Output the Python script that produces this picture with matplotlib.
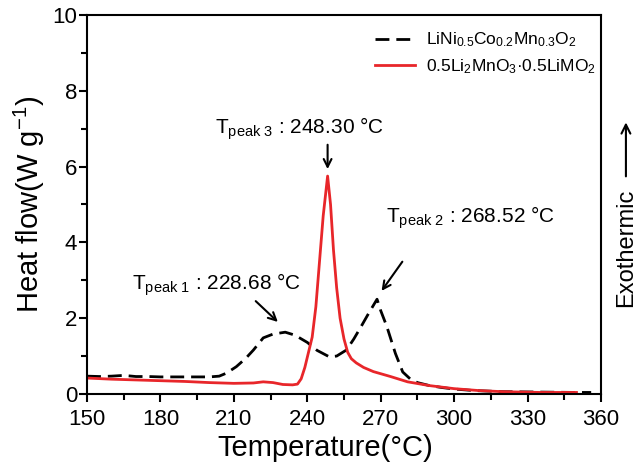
import matplotlib
matplotlib.use("Agg")
from matplotlib import pyplot as plt
from matplotlib.ticker import MultipleLocator

plt.rcParams['font.family'] = ['Liberation Sans', 'DejaVu Sans']
plt.rcParams['mathtext.fontset'] = 'custom'
plt.rcParams['mathtext.rm'] = 'Liberation Sans'
plt.rcParams['mathtext.it'] = 'Liberation Sans:italic'
plt.rcParams['mathtext.default'] = 'regular'

# LiNi0.5Co0.2Mn0.3O2 (black dashed)
ncm_t = [150, 155, 160, 165, 170, 175, 180, 190, 200, 204, 207, 211, 215, 218,
         222, 226, 231, 235, 240, 244, 249, 252, 256, 259, 262, 265, 268.5, 270,
         272.5, 276, 279, 282, 285, 290, 295, 300, 308, 320, 335, 350, 356]
ncm_q = [0.47, 0.46, 0.47, 0.49, 0.46, 0.46, 0.45, 0.45, 0.45, 0.47, 0.55, 0.72, 0.95, 1.16,
         1.48, 1.58, 1.63, 1.55, 1.36, 1.15, 0.98, 1.00, 1.16, 1.45, 1.78, 2.12, 2.50, 2.20,
         1.78, 1.07, 0.58, 0.40, 0.30, 0.22, 0.17, 0.13, 0.09, 0.06, 0.05, 0.04, 0.04]

# 0.5Li2MnO3-0.5LiMO2 (red)
lr_t = [150, 160, 170, 180, 190, 200, 210, 218, 222, 226, 230, 234, 236, 237.5, 239,
        240.5, 242, 243.5, 245, 246.5, 248.3, 249.5, 250.7, 252, 253.4, 255, 256.5,
        258, 260, 263, 267, 274, 281, 290, 300, 310, 320, 335, 350]
lr_q = [0.42, 0.39, 0.37, 0.35, 0.33, 0.30, 0.28, 0.29, 0.32, 0.30, 0.25, 0.24, 0.26, 0.40, 0.70,
        1.10, 1.50, 2.30, 3.50, 4.70, 5.75, 5.00, 3.80, 2.80, 2.00, 1.45, 1.10,
        0.93, 0.82, 0.70, 0.59, 0.46, 0.32, 0.22, 0.14, 0.09, 0.06, 0.04, 0.04]

xticks = [150, 180, 210, 240, 270, 300, 330, 360]
yticks = [0, 2, 4, 6, 8, 10]

fig = plt.figure(figsize=(6.4, 4.69), dpi=100)
ax = fig.add_axes([0.136, 0.160, 0.803, 0.808])

ax.plot(ncm_t, ncm_q, color='black', lw=2, linestyle=(0, (5, 2.5)),
        label='LiNi$_{0.5}$Co$_{0.2}$Mn$_{0.3}$O$_2$')
ax.plot(lr_t, lr_q, color='#e8262a', lw=2,
        label='0.5Li$_2$MnO$_3$·0.5LiMO$_2$')

ax.set_xlim(150, 360)
ax.set_ylim(0, 10)
ax.set_xticks(xticks)
ax.set_yticks(yticks)
ax.xaxis.set_minor_locator(MultipleLocator(15))
ax.yaxis.set_minor_locator(MultipleLocator(1))
ax.tick_params(which='major', direction='out', length=6, width=1.5, labelsize=16, pad=1)
ax.tick_params(axis='x', which='major', pad=5)
ax.tick_params(which='minor', direction='out', length=4, width=1.5)
for s in ax.spines.values():
    s.set_linewidth(1.5)

ax.set_xlabel('Temperature(°C)', fontsize=21)
ax.xaxis.set_label_coords(0.463, -0.105)
ax.set_ylabel('Heat flow(W g$^{-1}$)', fontsize=21, labelpad=4)

ax.legend(loc='upper right', frameon=False, fontsize=12.5, handlelength=2.3,
          bbox_to_anchor=(1.02, 1.0), labelspacing=0.45, handletextpad=0.6)

arrow = dict(arrowstyle='->', color='black', lw=1.5, mutation_scale=14)
ax.annotate('', xy=(248.3, 5.86), xytext=(248.3, 6.65), arrowprops=arrow)
ax.text(237, 7.0, 'T$_{peak\\ 3}$ : 248.30 °C', fontsize=15, ha='center', va='center')
ax.annotate('', xy=(228.8, 1.85), xytext=(218.1, 2.5), arrowprops=arrow)
ax.text(203, 2.88, 'T$_{peak\\ 1}$ : 228.68 °C', fontsize=15, ha='center', va='center')
ax.annotate('', xy=(269.7, 2.66), xytext=(279.5, 3.55), arrowprops=arrow)
ax.text(306.5, 4.64, 'T$_{peak\\ 2}$ : 268.52 °C', fontsize=15, ha='center', va='center')

fig.text(0.978, 0.471, 'Exothermic', rotation=90, fontsize=17, ha='center', va='center')
fig.add_artist(matplotlib.patches.FancyArrowPatch((0.978, 0.618), (0.978, 0.745),
               transform=fig.transFigure, arrowstyle='->', color='black', lw=1.5,
               mutation_scale=16))

fig.savefig('out.png', dpi=100)
